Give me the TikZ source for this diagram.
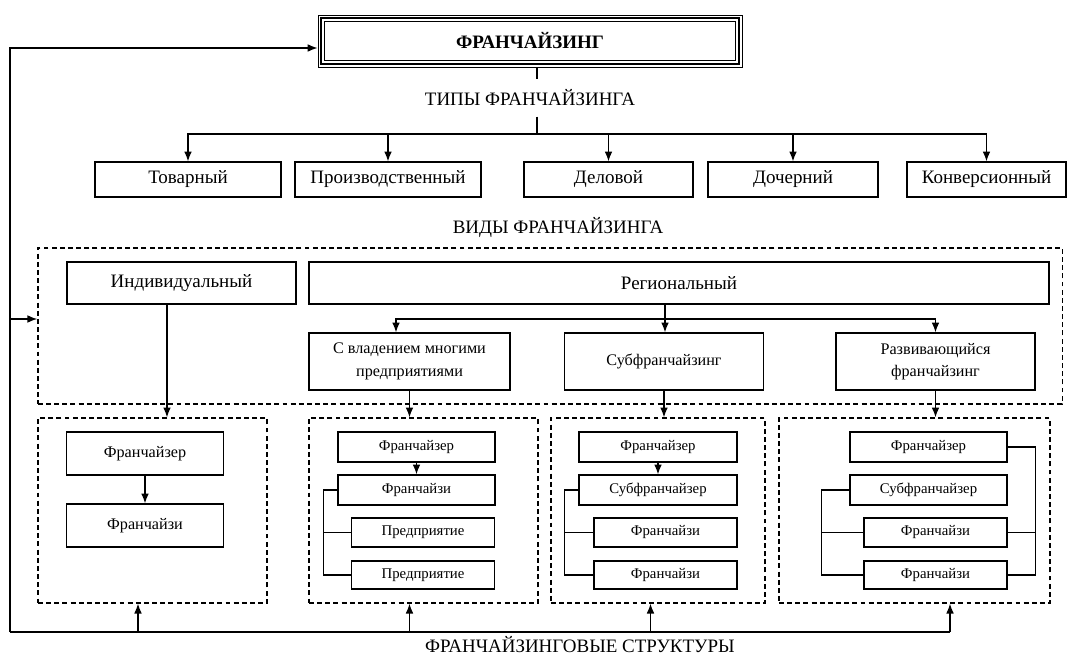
\documentclass[tikz,border=0pt]{standalone}
\usepackage{fontspec}
\setmainfont{Liberation Serif}
\usetikzlibrary{positioning,arrows.meta,calc}

\begin{document}
\begin{tikzpicture}[x=0.025cm,y=-0.025cm,
    line width=0.9pt,
    >={Latex[length=7pt,width=5.5pt]},
    every node/.style={inner sep=0pt,align=center},
    bigtext/.style={font=\fontsize{13.5}{16}\selectfont},
    box/.style={draw,rectangle,minimum height=0.875cm,font=\fontsize{13.5}{16}\selectfont},
    midbox/.style={draw,rectangle,minimum height=1.425cm,font=\fontsize{11.5}{16}\selectfont},
    smallbox/.style={draw,rectangle,minimum height=0.75cm,font=\fontsize{10.5}{12}\selectfont},
    dashbox/.style={draw,dash pattern=on 3.5pt off 2.3pt}
    ]
    \useasboundingbox (0,0) rectangle (1071,657);

    \node (title) [draw,line width=0.6pt,minimum width=10.6cm,minimum height=1.3cm,
        font=\fontsize{13.5}{16}\selectfont\bfseries] at (530,41) {ФРАНЧАЙЗИНГ};
    \draw[line width=1.8pt] ($(title.north west)+(3.5,3.5)$) rectangle ($(title.south east)+(-3.5,-3.5)$);
    \draw[line width=0.6pt] ($(title.north west)+(7,7)$) rectangle ($(title.south east)+(-7,-7)$);

    \node (types) [bigtext,inner ysep=7pt] at (530,98) {ТИПЫ ФРАНЧАЙЗИНГА};
    \node (t1) [box,minimum width=4.65cm] at (188,179.5) {Товарный};
    \node (t2) [box,minimum width=4.65cm] at (388,179.5) {Производственный};
    \node (t3) [box,minimum width=4.225cm] at (608.5,179.5) {Деловой};
    \node (t4) [box,minimum width=4.25cm] at (793,179.5) {Дочерний};
    \node (t5) [box,minimum width=3.975cm] at (986.5,179.5) {Конверсионный};

    \node (kinds) [bigtext] at (558,227) {ВИДЫ ФРАНЧАЙЗИНГА};
    \node (big) [dashbox,minimum width=25.6cm,minimum height=3.9cm] at (550,326) {};
    \node (v1) [box,minimum width=5.725cm,minimum height=1.05cm] at (181.5,283) {Индивидуальный};
    \node (v2) [box,minimum width=18.5cm,minimum height=1.05cm] at (679,283) {Региональный};
    \node (r1) [midbox,minimum width=5.025cm] at (409.5,361.5) {С владением многими\\предприятиями};
    \node (r2) [midbox,minimum width=4.99cm] at (664,361.5) {Субфранчайзинг};
    \node (r3) [midbox,minimum width=4.975cm] at (935.5,361.5) {Развивающийся\\франчайзинг};

    % the structures
    \node (L1) [dashbox,minimum width=5.725cm,minimum height=4.625cm] at (152.5,510.5) {};
    \node (L2) [dashbox,minimum width=5.725cm,minimum height=4.625cm] at (423.5,510.5) {};
    \node (L3) [dashbox,minimum width=5.35cm,minimum height=4.625cm] at (658,510.5) {};
    \node (L4) [dashbox,minimum width=6.775cm,minimum height=4.625cm] at (914.5,510.5) {};

    \node (a1) [smallbox,minimum width=3.94cm,minimum height=1.075cm,font=\fontsize{11.5}{14}\selectfont] at (145,453.5) {Франчайзер};
    \node (a2) [smallbox,minimum width=3.94cm,minimum height=1.075cm,font=\fontsize{11.5}{14}\selectfont] at (145,525.5) {Франчайзи};

    \node (b1) [smallbox,minimum width=3.925cm] at (416.5,447) {Франчайзер};
    \node (b2) [smallbox,minimum width=3.925cm] at (416.5,490) {Франчайзи};
    \node (b3) [smallbox,minimum width=3.5875cm,minimum height=0.725cm] at (423,532.5) {Предприятие};
    \node (b4) [smallbox,minimum width=3.5875cm,minimum height=0.7cm] at (423,575) {Предприятие};

    \node (c1) [smallbox,minimum width=3.95cm] at (658,447) {Франчайзер};
    \node (c2) [smallbox,minimum width=3.95cm] at (658,490) {Субфранчайзер};
    \node (c3) [smallbox,minimum width=3.575cm,minimum height=0.725cm] at (665.5,532.5) {Франчайзи};
    \node (c4) [smallbox,minimum width=3.575cm,minimum height=0.7cm] at (665.5,575) {Франчайзи};

    \node (d1) [smallbox,minimum width=3.925cm] at (928.5,447) {Франчайзер};
    \node (d2) [smallbox,minimum width=3.925cm] at (928.5,490) {Субфранчайзер};
    \node (d3) [smallbox,minimum width=3.575cm,minimum height=0.725cm] at (935.5,532.5) {Франчайзи};
    \node (d4) [smallbox,minimum width=3.575cm,minimum height=0.7cm] at (935.5,575) {Франчайзи};

    \node (structs) [bigtext] at (580,645) {ФРАНЧАЙЗИНГОВЫЕ СТРУКТУРЫ};

    \coordinate (tb) at (537,134);
    \coordinate (rb) at (665,319);
    \coordinate (cTL) at (10,48);
    \coordinate (cML) at (10,319);
    \coordinate (cBL) at (10,632);
    \coordinate (u1) at (138,632);
    \coordinate (u2) at (409.5,632);
    \coordinate (u3) at (650.5,632);
    \coordinate (u4) at (950,632);

    % the edges
    \draw (title.south -| tb) -- (tb |- types.north);
    \draw (types.south -| tb) -- (tb);
    \draw[->] (tb) -| (t1);
    \draw[->] (tb) -| (t2);
    \draw[->] (tb) -| (t3);
    \draw[->] (tb) -| (t4);
    \draw[->] (tb) -| (t5);

    \draw[->] ([xshift=-0.3625cm]v1.south) -- ([xshift=-0.3625cm]v1.south |- L1.north);
    \draw (v2.south -| rb) -- (rb);
    \draw[->] (rb) -| ([xshift=-0.3375cm]r1.north);
    \draw[->] (rb) -- (rb |- r2.north);
    \draw[->] (rb) -| (r3);
    \draw[->] (r1.south) -- (r1.south |- L2.north);
    \draw[->] (r2.south) -- (r2.south |- L3.north);
    \draw[->] (r3.south) -- (r3.south |- L4.north);

    \draw[->] (a1) -- (a2);
    \draw[->] (b1) -- (b2);
    \draw[->] (c1) -- (c2);
    \draw (b2.west) -- ++(-14,0) coordinate (bk) |- (b4.west);
    \draw (b3.west) -- (b3.west -| bk);
    \draw (c2.west) -- ++(-13.5,0) coordinate (ck) |- (c4.west);
    \draw (c3.west) -- (c3.west -| ck);
    \draw (d2.west) -- ++(-28,0) coordinate (dk) |- (d4.west);
    \draw (d3.west) -- (d3.west -| dk);
    \draw (d1.east) -- ++(28,0) coordinate (dr) |- (d4.east);
    \draw (d3.east) -- (d3.east -| dr);

    % the loop
    \draw[->] (cBL) -- (cTL) -- (title.west |- cTL);
    \draw[->] (cML) -- (cML -| big.west);
    \draw (cBL) -- (u4);
    \draw[->] (u1) -- (u1 |- L1.south);
    \draw[->] (u2) -- (u2 |- L2.south);
    \draw[->] (u3) -- (u3 |- L3.south);
    \draw[->] (u4) -- (u4 |- L4.south);
\end{tikzpicture}
\end{document}
